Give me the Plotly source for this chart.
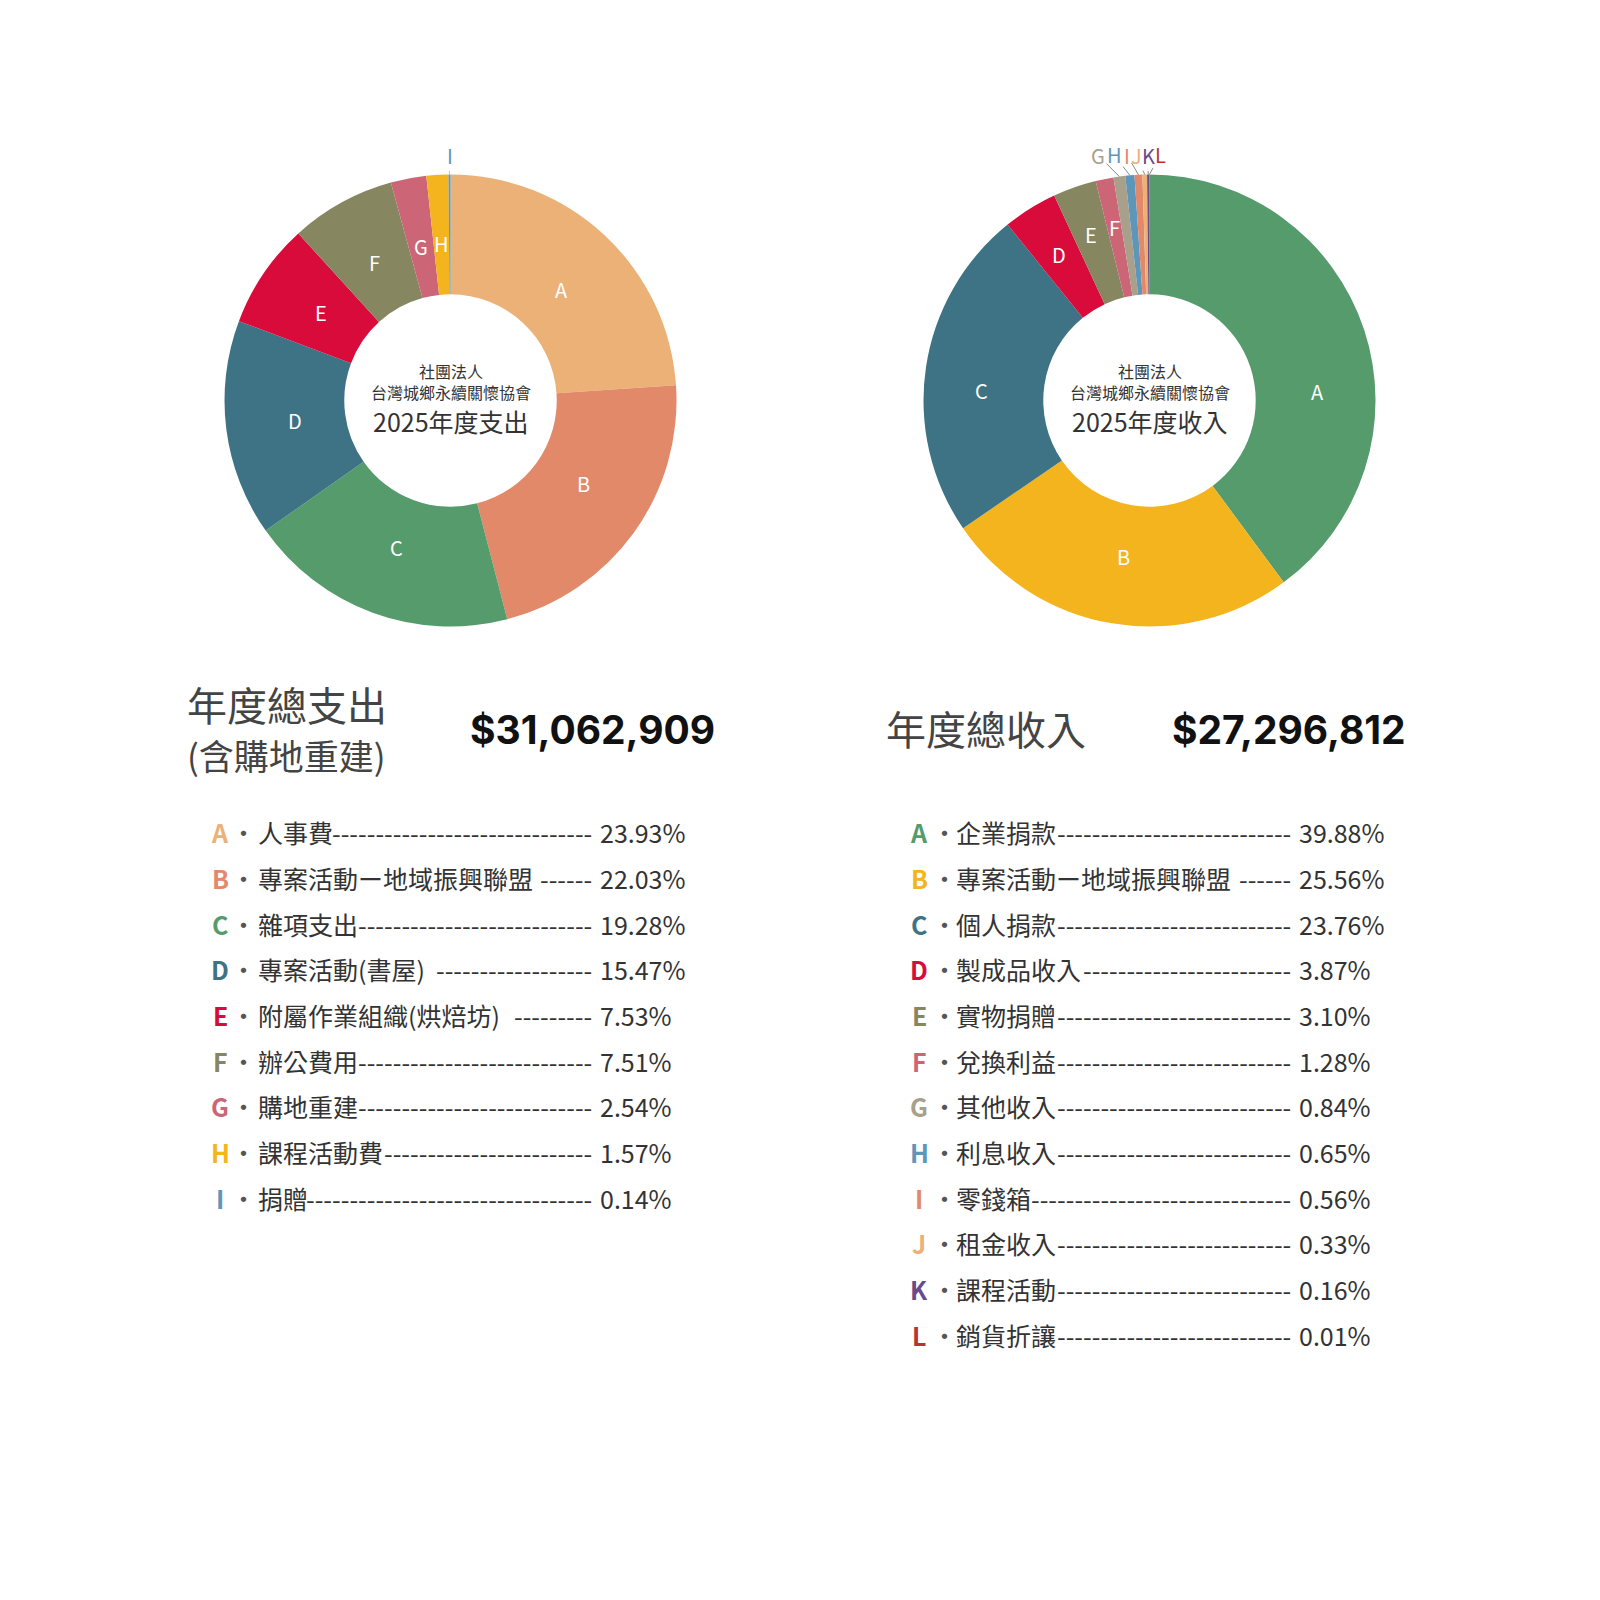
import math
import plotly.graph_objects as go

# ---------------- data ----------------
exp_letters = ["A", "B", "C", "D", "E", "F", "G", "H", "I"]
exp_labels = ["人事費", "專案活動ー地域振興聯盟", "雜項支出", "專案活動(書屋)",
              "附屬作業組織(烘焙坊)", "辦公費用", "購地重建", "課程活動費", "捐贈"]
exp_pct = [23.93, 22.03, 19.28, 15.47, 7.53, 7.51, 2.54, 1.57, 0.14]
exp_colors = ["#EBB176", "#E2896A", "#559B6C", "#3D7385", "#D80B3A",
              "#868660", "#CC6677", "#F4B41E", "#5E96BA"]

inc_letters = ["A", "B", "C", "D", "E", "F", "G", "H", "I", "J", "K", "L"]
inc_labels = ["企業捐款", "專案活動ー地域振興聯盟", "個人捐款", "製成品收入", "實物捐贈",
              "兌換利益", "其他收入", "利息收入", "零錢箱", "租金收入", "課程活動", "銷貨折讓"]
inc_pct = [39.88, 25.56, 23.76, 3.87, 3.10, 1.28, 0.84, 0.65, 0.56, 0.33, 0.16, 0.01]
inc_colors = ["#559B6C", "#F4B41E", "#3D7385", "#D80B3A", "#868660", "#CC6677",
              "#A8A08A", "#5E96BA", "#E2896A", "#EBB176", "#6B4A8A", "#B5352F"]

org_lines = ["社團法人", "台灣城鄉永續關懷協會"]
exp_center_title = "2025年度支出"
inc_center_title = "2025年度收入"
exp_title = ["年度總支出", "(含購地重建)"]
inc_title = ["年度總收入"]
exp_total = "$31,062,909"
inc_total = "$27,296,812"

# ---------------- layout constants ----------------
W = H = 1600
OFF = 8          # default page body margin
R = 226
HOLE = 0.47
CJK = "Noto Sans CJK TC"
TXT = "#333333"


def px(x):
    return (x - OFF) / W


def py(y):
    return 1 - (y - OFF) / H


fig = go.Figure()
annotations = []


def add_pie(cx, cy, letters, labels, pct, colors, inside_n, label_r, label_tweak,
            outside_pos, line_color):
    fig.add_trace(go.Pie(
        values=pct, labels=[f"{l}・{t}" for l, t in zip(letters, labels)],
        sort=False, direction="clockwise", rotation=0, hole=HOLE,
        marker=dict(colors=colors, line=dict(width=0)),
        textinfo="none", showlegend=False,
        domain=dict(x=[px(cx - R), px(cx + R)], y=[py(cy + R), py(cy - R)]),
        hovertemplate="%{label}: %{value}%<extra></extra>",
    ))
    total = sum(pct)
    cum = 0.0
    for i, v in enumerate(pct):
        mid = (cum + v / 2) / total * 2 * math.pi
        cum += v
        if i < inside_n:
            da, rr = label_tweak.get(letters[i], (0, label_r))
            a = mid + math.radians(da)
            x = cx + rr * math.sin(a)
            y = cy - rr * math.cos(a)
            annotations.append(dict(
                x=px(x), y=py(y), xref="paper", yref="paper", text=letters[i],
                showarrow=False, font=dict(family=CJK, size=20, color="white"),
                xanchor="center", yanchor="middle"))
        else:
            tx, ty = outside_pos[i - inside_n]
            ex = cx + R * math.sin(mid)
            ey = cy - R * math.cos(mid)
            annotations.append(dict(
                x=px(ex), y=py(ey), xref="paper", yref="paper", text=letters[i],
                showarrow=True, arrowhead=0, arrowwidth=1, arrowcolor=line_color,
                ax=tx - ex, ay=ty - ey, standoff=0,
                font=dict(family=CJK, size=20, color=colors[i])))


add_pie(450.5, 400.5, exp_letters, exp_labels, exp_pct, exp_colors, 8, 157,
        {"A": (2, 157), "B": (-4, 157)}, [(449.5, 155)], "#C9B9C0")
add_pie(1149.5, 400.5, inc_letters, inc_labels, inc_pct, inc_colors, 6, 168,
        {"A": (15, 168), "B": (0, 158), "C": (-5, 168), "D": (0, 172), "E": (0, 176), "F": (0, 177)},
        [(1098, 155), (1114, 155), (1127, 155), (1136, 155), (1148, 155), (1160, 155)],
        "#8A8A8A")

# centre texts
for cx, title in [(450.5, exp_center_title), (1149.5, inc_center_title)]:
    annotations.append(dict(x=px(cx), y=py(381.5), xref="paper", yref="paper",
                            text="<br>".join(org_lines),
                            showarrow=False, xanchor="center", yanchor="middle",
                            font=dict(family=CJK, size=16, color=TXT)))
    annotations.append(dict(x=px(cx), y=py(421), xref="paper", yref="paper", text=title,
                            showarrow=False, xanchor="center", yanchor="middle",
                            font=dict(family=CJK, size=25, color=TXT)))

# headings
annotations.append(dict(x=px(185), y=py(727), xref="paper", yref="paper",
                        text=(f"<span style='font-size:40px'>{exp_title[0]}</span><br>"
                              f"<span style='font-size:35px'>{exp_title[1]}</span>"),
                        xanchor="left", yanchor="middle", align="left", showarrow=False,
                        font=dict(family=CJK, size=37.5, color="#444444")))
annotations.append(dict(x=px(884), y=py(728), xref="paper", yref="paper", text=inc_title[0],
                        xanchor="left", yanchor="middle", showarrow=False,
                        font=dict(family=CJK, size=40, color="#444444")))
annotations.append(dict(x=px(468), y=py(729), xref="paper", yref="paper", text=exp_total,
                        xanchor="left", yanchor="middle", showarrow=False,
                        font=dict(family="Inter", size=39, color="#111111", weight="bold")))
annotations.append(dict(x=px(1170), y=py(729), xref="paper", yref="paper", text=inc_total,
                        xanchor="left", yanchor="middle", showarrow=False,
                        font=dict(family="Inter", size=39, color="#111111", weight="bold")))

# legends
FS = 25
DASH_W = 8.33
PITCH = 45.66


def text_w(s):
    w = 0
    for c in s:
        if ord(c) > 0x2000:
            w += FS
        elif c in "()":
            w += FS * 0.33
        else:
            w += FS * 0.5
    return w


def add_legend(letters, labels, pct, colors, x_letter, x_dot, x_label, x_dash_end, x_pct, y0):
    for i, (l, lab, p, c) in enumerate(zip(letters, labels, pct, colors)):
        y = y0 + i * PITCH
        annotations.append(dict(x=px(x_letter), y=py(y), xref="paper", yref="paper", text=f"<b>{l}</b>",
                                showarrow=False, xanchor="center", yanchor="middle",
                                font=dict(family=CJK, size=FS, color=c)))
        annotations.append(dict(x=px(x_dot), y=py(y), xref="paper", yref="paper", text="・",
                                showarrow=False, xanchor="center", yanchor="middle",
                                font=dict(family=CJK, size=FS, color="#555555")))
        annotations.append(dict(x=px(x_label), y=py(y), xref="paper", yref="paper", text=lab,
                                showarrow=False, xanchor="left", yanchor="middle",
                                font=dict(family=CJK, size=FS, color=TXT)))
        gap = 20 if lab.endswith(")") else 10
        start = x_label + text_w(lab) + gap
        n = max(1, int((x_dash_end - start) / DASH_W))
        annotations.append(dict(x=px(x_dash_end), y=py(y), xref="paper", yref="paper", text="-" * n,
                                showarrow=False, xanchor="right", yanchor="middle",
                                font=dict(family=CJK, size=FS, color=TXT)))
        annotations.append(dict(x=px(x_pct), y=py(y), xref="paper", yref="paper", text=f"{p:.2f}%",
                                showarrow=False, xanchor="left", yanchor="middle",
                                font=dict(family=CJK, size=FS, color=TXT)))


add_legend(exp_letters, exp_labels, exp_pct, exp_colors, 220, 243, 256, 594, 598, 832.5)
add_legend(inc_letters, inc_labels, inc_pct, inc_colors, 919, 944, 954, 1293, 1297, 832.5)

fig.update_layout(
    width=W, height=H, margin=dict(l=0, r=0, t=0, b=0),
    paper_bgcolor="white", plot_bgcolor="white",
    annotations=annotations,
)
fig.write_html("out.html")
